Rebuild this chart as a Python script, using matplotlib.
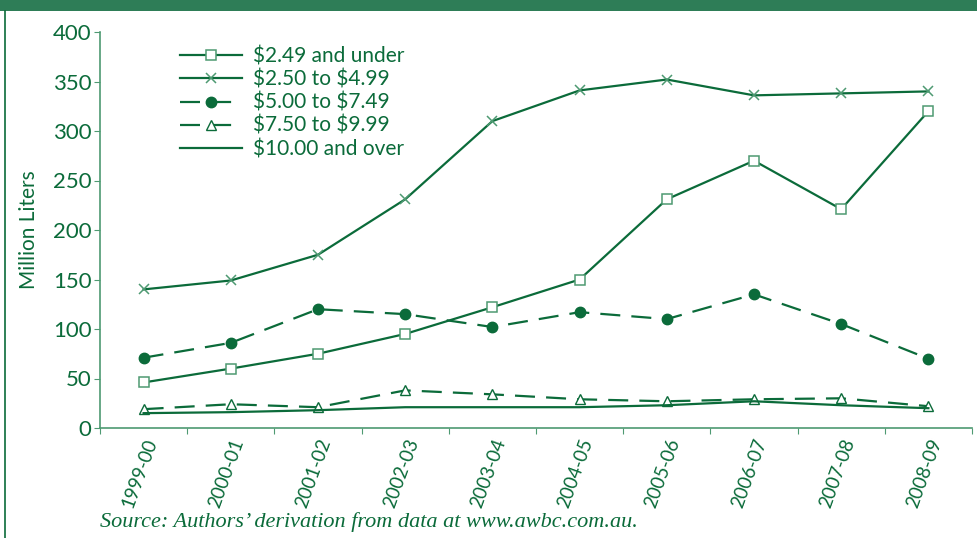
import matplotlib
matplotlib.use("Agg")
import matplotlib.pyplot as plt
from matplotlib.patches import Rectangle
from matplotlib.lines import Line2D

years = ["1999-00", "2000-01", "2001-02", "2002-03", "2003-04",
         "2004-05", "2005-06", "2006-07", "2007-08", "2008-09"]
under_249 = [46, 60, 75, 95, 122, 150, 231, 270, 221, 320]
from_250_499 = [140, 149, 175, 231, 310, 341, 352, 336, 338, 340]
from_500_749 = [71, 86, 120, 115, 102, 117, 110, 135, 105, 70]
from_750_999 = [19, 24, 21, 38, 34, 29, 27, 29, 30, 22]
over_1000 = [15, 16, 18, 21, 21, 21, 23, 27, 23, 20]
labels = ["$2.49 and under", "$2.50 to $4.99", "$5.00 to $7.49",
          "$7.50 to $9.99", "$10.00 and over"]

GREEN = "#0b6b3a"
LIGHT = "#4e9a72"
HEADER = "#2e7d57"
plt.rcParams['font.family'] = ['Lato', 'DejaVu Sans']
plt.rcParams['text.parse_math'] = False

W, H = 977, 538
fig = plt.figure(figsize=(W / 100, H / 100), dpi=100)

# header bar and left border
fig.patches.append(Rectangle((0, 1 - 11 / H), 1, 11 / H, transform=fig.transFigure,
                             facecolor=HEADER, edgecolor="none", zorder=0))
fig.add_artist(Line2D([5 / W, 5 / W], [0, 1 - 11 / H], transform=fig.transFigure,
                      color=GREEN, lw=1.2))

ax = fig.add_axes([100 / W, 1 - 428 / H, 872 / W, (428 - 32) / H])
x = list(range(len(years)))

ax.plot(x, under_249, color=GREEN, lw=1.6, marker="s", ms=7, mfc="white",
        mec=LIGHT, mew=1.1, label=labels[0])
ax.plot(x, from_250_499, color=GREEN, lw=1.6, marker="x", ms=7,
        mec=LIGHT, mew=1.1, label=labels[1])
ax.plot(x, from_500_749, color=GREEN, lw=1.6, ls=(0, (9, 5)), marker="o", ms=7.5,
        mfc=GREEN, mec=GREEN, label=labels[2])
ax.plot(x, from_750_999, color=GREEN, lw=1.6, ls=(0, (9, 5)), marker="^", ms=7,
        mfc="white", mec=GREEN, mew=1.0, label=labels[3])
ax.plot(x, over_1000, color=GREEN, lw=1.6, label=labels[4])

ax.set_xlim(-0.5, len(years) - 0.5)
ax.set_ylim(0, 400)
ax.set_yticks(range(0, 401, 50))
ax.set_xticks([i - 0.5 for i in range(len(years) + 1)])
ax.set_xticklabels([])
ax.set_xticks(x, minor=True)
ax.set_xticklabels(years, minor=True, rotation=70, ha="right",
                   rotation_mode="anchor", fontsize=13.5, color=GREEN)
ax.tick_params(axis="x", which="minor", length=0, pad=6)
ax.tick_params(axis="x", which="major", length=4, color=LIGHT, direction="out")
ax.tick_params(axis="y", length=4, color=LIGHT, labelsize=16, labelcolor=GREEN, pad=2)

for s in ["top", "right"]:
    ax.spines[s].set_visible(False)
for s in ["left", "bottom"]:
    ax.spines[s].set_color(LIGHT)
    ax.spines[s].set_linewidth(1.2)

ax.set_ylabel("Million Liters", fontsize=15, color=GREEN, labelpad=10)

leg = ax.legend(loc="upper left", bbox_to_anchor=(0.075, 1.0), frameon=False,
                fontsize=15, labelcolor=GREEN, handlelength=3.0, handletextpad=0.5,
                labelspacing=0.15, borderaxespad=0.3)

fig.text(100 / W, 1 - 522 / H, "Source: Authors\u2019 derivation from data at www.awbc.com.au.",
         fontsize=16, color=GREEN, style="italic", family=["Liberation Serif", "DejaVu Serif"],
         va="center", ha="left")

fig.savefig("out.png", dpi=100)
